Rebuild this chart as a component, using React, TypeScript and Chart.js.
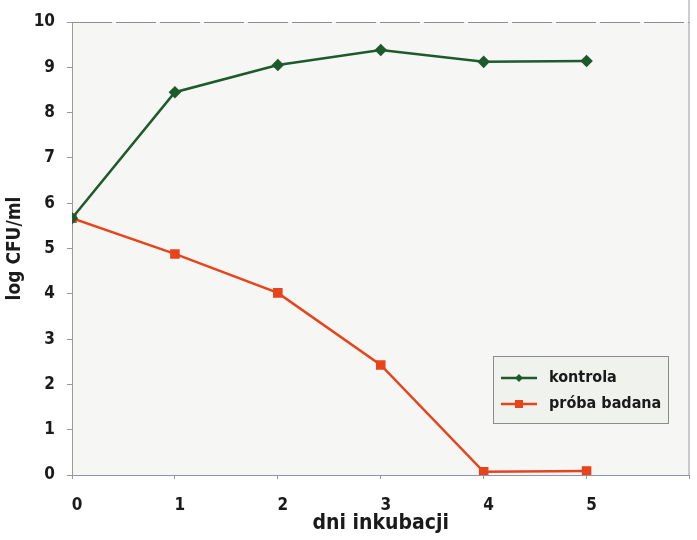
import React, { useEffect, useRef } from "react";
import { Chart, registerables } from "chart.js";

Chart.register(...registerables);

const days = [0, 1, 2, 3, 4, 5];
const kontrola = [5.67, 8.45, 9.05, 9.38, 9.12, 9.14];
const probaBadana = [5.67, 4.88, 4.02, 2.43, 0.07, 0.09];
const seriesNames = ["kontrola", "próba badana"];
const yTitle = "log CFU/ml";
const xTitle = "dni inkubacji";

const FONT = "'Liberation Sans Narrow', 'DejaVu Sans Condensed', 'Roboto Condensed', Arial, sans-serif";
const GREEN = "#1d5a2c";
const RED = "#e8441c";

const bgPlugin = {
  id: "bgPlugin",
  beforeDraw(chart: any) {
    const { ctx, chartArea } = chart;
    ctx.save();
    ctx.fillStyle = "#f6f6f5";
    ctx.fillRect(chartArea.left, chartArea.top, chartArea.right - chartArea.left, chartArea.bottom - chartArea.top);
    ctx.strokeStyle = "#8a8f99";
    ctx.lineWidth = 1;
    ctx.setLineDash([40, 4]);
    ctx.beginPath();
    ctx.moveTo(chartArea.left, chartArea.top + 0.5);
    ctx.lineTo(chartArea.right, chartArea.top + 0.5);
    ctx.stroke();
    ctx.setLineDash([]);
    ctx.strokeStyle = "#9a96b0";
    ctx.beginPath();
    ctx.moveTo(chartArea.right - 0.5, 0);
    ctx.lineTo(chartArea.right - 0.5, chartArea.bottom);
    ctx.stroke();
    ctx.restore();
  },
  afterDatasetsDraw(chart: any) {
    const { ctx, chartArea } = chart;
    const bx = chartArea.left + 421;
    const by = chartArea.top + 334;
    const bw = 175;
    const bh = 67;
    ctx.save();
    ctx.fillStyle = "#f0f2ee";
    ctx.fillRect(bx, by, bw, bh);
    ctx.strokeStyle = "#8c8c8c";
    ctx.lineWidth = 1;
    ctx.strokeRect(bx + 0.5, by + 0.5, bw, bh);
    const items = chart.data.datasets;
    items.forEach((ds: any, i: number) => {
      const cy = by + 22 + i * 26;
      const lx = bx + 8;
      ctx.strokeStyle = ds.borderColor;
      ctx.lineWidth = 2.5;
      ctx.beginPath();
      ctx.moveTo(lx, cy);
      ctx.lineTo(lx + 36, cy);
      ctx.stroke();
      ctx.fillStyle = ds.borderColor;
      if (i === 0) {
        ctx.beginPath();
        ctx.moveTo(lx + 18, cy - 4);
        ctx.lineTo(lx + 22, cy);
        ctx.lineTo(lx + 18, cy + 4);
        ctx.lineTo(lx + 14, cy);
        ctx.closePath();
        ctx.fill();
      } else {
        ctx.fillRect(lx + 14, cy - 4, 8, 8);
      }
      ctx.fillStyle = "#1a1a1a";
      ctx.font = "bold 16px " + FONT;
      ctx.textBaseline = "middle";
      ctx.textAlign = "left";
      ctx.fillText(ds.label, lx + 48, cy);
    });
    ctx.restore();
  },
};

export default function App() {
  const ref = useRef<HTMLCanvasElement>(null);
  useEffect(() => {
    const canvas = ref.current!;
    const chart = new Chart(canvas, {
      type: "line",
      data: {
        datasets: [
          {
            label: seriesNames[0],
            data: days.map((d, i) => ({ x: d, y: kontrola[i] })),
            borderColor: GREEN,
            backgroundColor: GREEN,
            borderWidth: 2.5,
            pointStyle: "rectRot",
            pointRadius: 4.5,
            pointHoverRadius: 4.5,
          },
          {
            label: seriesNames[1],
            data: days.map((d, i) => ({ x: d, y: probaBadana[i] })),
            borderColor: RED,
            backgroundColor: RED,
            borderWidth: 2.5,
            pointStyle: "rect",
            pointRadius: 5,
            pointHoverRadius: 5,
          },
        ],
      },
      options: {
        animation: false,
        responsive: false,
        layout: { padding: { top: 22, right: 7, left: 0, bottom: 0 } },
        plugins: { legend: { display: false }, tooltip: { enabled: false } },
        scales: {
          x: {
            type: "linear",
            min: 0,
            max: 6,
            afterFit: (s: any) => { s.height = 65; s.paddingLeft = 0; s.paddingRight = 0; },
            border: { color: "#8d93a8", width: 1 },
            grid: { drawOnChartArea: false, tickLength: 4, color: "#999" },
            ticks: {
              stepSize: 1,
              labelOffset: 5,
              padding: 16,
              maxRotation: 0,
              color: "#1a1a1a",
              font: { family: FONT, size: 17, weight: "bold" },
              callback: (v: any) => (v <= 5 ? String(v) : ""),
            },
            title: {
              display: true,
              text: xTitle,
              color: "#1a1a1a",
              font: { family: FONT, size: 21, weight: "bold" },
              padding: { top: 0 },
            },
          },
          y: {
            min: 0,
            max: 10,
            afterFit: (s: any) => { s.width = 72; s.paddingTop = 0; s.paddingBottom = 0; },
            border: { color: "#999", width: 1 },
            grid: { drawOnChartArea: false, tickLength: 5, color: "#999" },
            ticks: {
              stepSize: 1,
              padding: 12,
              color: "#1a1a1a",
              font: { family: FONT, size: 17, weight: "bold" },
            },
            title: {
              display: true,
              text: yTitle,
              color: "#1a1a1a",
              font: { family: FONT, size: 19, weight: "bold" },
              padding: { bottom: 4 },
            },
          },
        },
      },
      plugins: [bgPlugin],
    } as any);
    return () => chart.destroy();
  }, []);
  return (
    <div style={{ position: "fixed", left: 0, top: 0, width: 697, height: 540, background: "#fff" }}>
      <canvas ref={ref} width={697} height={540} style={{ width: 697, height: 540 }} />
    </div>
  );
}
